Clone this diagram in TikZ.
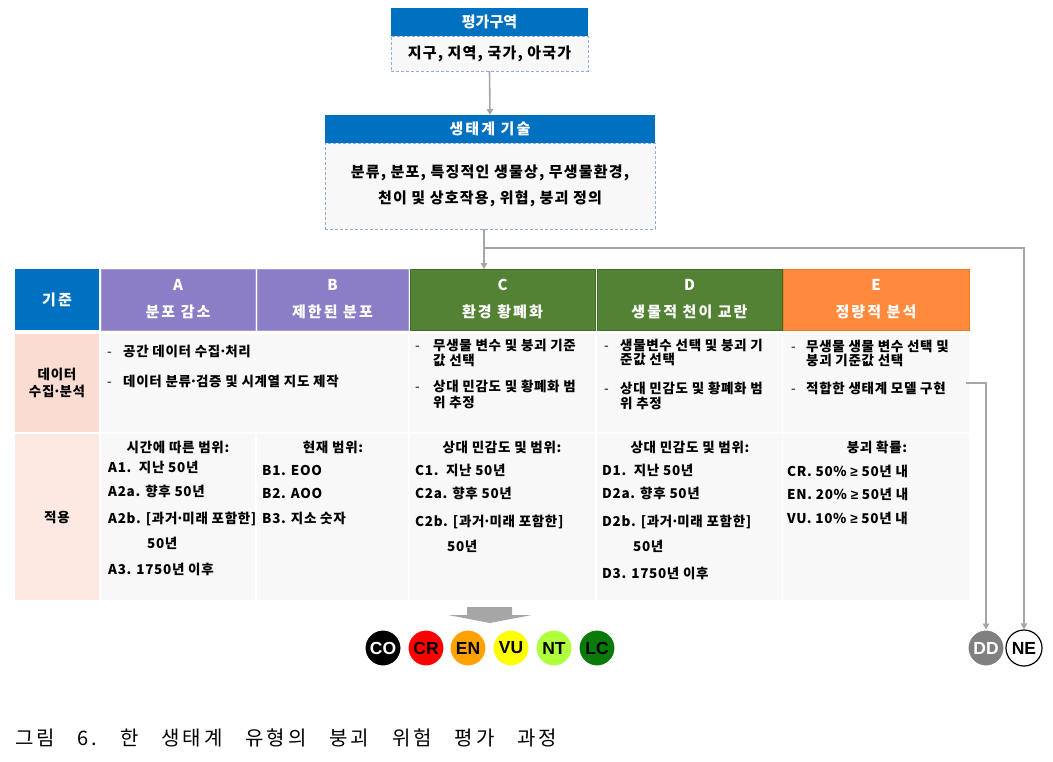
\documentclass[tikz,border=0pt]{standalone}
\usepackage{fontspec}
\setmainfont{Noto Sans CJK KR}[LetterSpace=5]
\newfontfamily\hdrf{Noto Sans CJK KR}[LetterSpace=14]
\newfontfamily\topf{Noto Sans CJK KR}[LetterSpace=8]
\newfontfamily\plainf{Noto Sans CJK KR}
\newfontfamily\capf{Noto Sans CJK KR}[LetterSpace=15]
\newfontfamily\arialf{Liberation Sans}
\newcommand\kdot{\kern-.12em·\kern-.12em}
\newcommand\kge{{\arialf\bfseries ≥}}
\usetikzlibrary{arrows.meta}
\definecolor{hblue}{HTML}{0070C0}
\definecolor{dashblue}{HTML}{8FAADC}
\definecolor{boxgray}{HTML}{F8F8F8}
\definecolor{purp}{HTML}{8B7EC6}
\definecolor{purpline}{HTML}{A59BD6}
\definecolor{grn}{HTML}{548235}
\definecolor{grnline}{HTML}{3E6B25}
\definecolor{orng}{HTML}{FF8A3D}
\definecolor{orngline}{HTML}{F07A22}
\definecolor{pinkA}{HTML}{FBDCD2}
\definecolor{pinkB}{HTML}{FDE9E2}
\definecolor{conngray}{HTML}{A6A6A6}
\definecolor{cored}{HTML}{FF0000}
\definecolor{coorange}{HTML}{FFA200}
\definecolor{coyellow}{HTML}{FFFF00}
\definecolor{colime}{HTML}{B0FF3C}
\definecolor{codgreen}{HTML}{0A7A0A}
\definecolor{ddgray}{HTML}{808080}
\begin{document}
\begin{tikzpicture}[x=1pt,y=-1pt,
  cell/.style={anchor=north west, inner sep=0pt, outer sep=0pt, align=center},
  hdrfont/.style={text=white, font=\hdrf\bfseries\fontsize{15}{27}\selectfont},
  dbox/.style={fill=boxgray, draw=dashblue, dash pattern=on 3pt off 2pt, line width=0.8pt},
  toptext/.style={font=\topf\bfseries\fontsize{15}{26}\selectfont},
  txt/.style={anchor=base west, inner sep=0pt, font=\bfseries\fontsize{13.5}{16}\selectfont},
  ttl/.style={anchor=base, inner sep=0pt, font=\bfseries\fontsize{13.5}{16}\selectfont},
  bul/.style={anchor=base west, inner sep=0pt, font=\fontsize{13.5}{16}\selectfont},
  rl/.style={circle, minimum size=36pt, inner sep=0pt, draw=white, line width=1pt, font=\arialf\bfseries\fontsize{17.5}{17.5}\selectfont},
  conn/.style={draw=conngray, line width=1.6pt, -{Triangle[length=6pt,width=6.5pt]}},
  line/.style={draw=conngray, line width=1.6pt}]
\useasboundingbox (0,0) rectangle (1053,761);

% top boxes
\node[cell, fill=hblue, minimum width=197pt, minimum height=28pt, text=white, font=\plainf\bfseries\fontsize{15}{27}\selectfont] (h1) at (391,8) {평가구역};
\node[cell, dbox, minimum width=197pt, minimum height=35pt, toptext] (b1) at (391,36) {지구, 지역, 국가, 아국가};
\node[cell, fill=hblue, minimum width=330pt, minimum height=28pt, hdrfont] (h2) at (325,115) {생태계 기술};
\node[cell, dbox, minimum width=330pt, minimum height=86pt, toptext] (b2) at (325,143) {분류, 분포, 특징적인 생물상, 무생물환경,\\천이 및 상호작용, 위협, 붕괴 정의};

% table header
\node[cell, fill=hblue, minimum width=84pt, minimum height=61pt, hdrfont] (hK) at (15,269) {기준};
\node[cell, fill=purp, draw=purpline, minimum width=154pt, minimum height=61pt, hdrfont] (hA) at (101,269) {A\\분포 감소};
\node[cell, fill=purp, draw=purpline, minimum width=151pt, minimum height=61pt, hdrfont] (hB) at (257,269) {B\\제한된 분포};
\node[cell, fill=grn, draw=grnline, minimum width=185pt, minimum height=61pt, hdrfont] (hC) at (410,269) {C\\환경 황폐화};
\node[cell, fill=grn, draw=grnline, minimum width=185pt, minimum height=61pt, hdrfont] (hD) at (597,269) {D\\생물적 천이 교란};
\node[cell, fill=orng, draw=orngline, minimum width=186pt, minimum height=61pt, hdrfont] (hE) at (783,269) {E\\정량적 분석};

% row 2
\node[cell, fill=pinkA, minimum width=84pt, minimum height=98pt, font=\bfseries\fontsize{13.5}{17}\selectfont] (rK2) at (15,334) {데이터\\수집\kdot 분석};
\node[cell, fill=boxgray, minimum width=307pt, minimum height=98pt] (rAB2) at (101,334) {};
\node[cell, fill=boxgray, minimum width=185pt, minimum height=98pt] (rC2) at (410,334) {};
\node[cell, fill=boxgray, minimum width=185pt, minimum height=98pt] (rD2) at (597,334) {};
\node[cell, fill=boxgray, minimum width=186pt, minimum height=98pt] (rE2) at (783,334) {};

% row 3
\node[cell, fill=pinkB, minimum width=84pt, minimum height=166pt, font=\bfseries\fontsize{13.5}{17}\selectfont] (rK3) at (15,434) {적용};
\node[cell, fill=boxgray, minimum width=154pt, minimum height=166pt] (rA3) at (101,434) {};
\node[cell, fill=boxgray, minimum width=151pt, minimum height=166pt] (rB3) at (257,434) {};
\node[cell, fill=boxgray, minimum width=185pt, minimum height=166pt] (rC3) at (410,434) {};
\node[cell, fill=boxgray, minimum width=185pt, minimum height=166pt] (rD3) at (597,434) {};
\node[cell, fill=boxgray, minimum width=186pt, minimum height=166pt] (rE3) at (783,434) {};

% row 2 texts
\node[bul] (dAB1) at (107,356) {-};
\node[txt] (tAB1) at (123,356) {공간 데이터 수집\kdot 처리};
\node[bul] (dAB2) at (107,386) {-};
\node[txt] (tAB2) at (123,386) {데이터 분류\kdot 검증 및 시계열 지도 제작};

\node[bul] (dC1) at (415,350) {-};
\node[txt] (tC1) at (433,350) {무생물 변수 및 붕괴 기준};
\node[txt] (tC1b) at (433,365) {값 선택};
\node[bul] (dC2) at (415,391) {-};
\node[txt] (tC2) at (433,391) {상대 민감도 및 황폐화 범};
\node[txt] (tC2b) at (433,407) {위 추정};

\node[bul] (dD1) at (604,350) {-};
\node[txt] (tD1) at (620,350) {생물변수 선택 및 붕괴 기};
\node[txt] (tD1b) at (620,364) {준값 선택};
\node[bul] (dD2) at (604,393) {-};
\node[txt] (tD2) at (620,393) {상대 민감도 및 황폐화 범};
\node[txt] (tD2b) at (620,408) {위 추정};

\node[bul] (dE1) at (791,351) {-};
\node[txt] (tE1) at (806,351) {무생물 생물 변수 선택 및};
\node[txt] (tE1b) at (806,365) {붕괴 기준값 선택};
\node[bul] (dE2) at (791,393) {-};
\node[txt] (tE2) at (806,393) {적합한 생태계 모델 구현};

% row 3 texts
\node[ttl] (tA0) at (178,452) {시간에 따른 범위:};
\node[txt] (tA1) at (108,472) {A1.\ \ 지난 50년};
\node[txt] (tA2) at (108,496) {A2a. 향후 50년};
\node[txt] (tA3) at (108,523) {A2b. [과거\kdot 미래 포함한]};
\node[txt] (tA3b) at (147,548) {50년};
\node[txt] (tA4) at (108,574) {A3. 1750년 이후};

\node[ttl] (tB0) at (333,452) {현재 범위:};
\node[txt] (tB1) at (262,475) {B1. EOO};
\node[txt] (tB2) at (262,498) {B2. AOO};
\node[txt] (tB3) at (262,523) {B3. 지소 숫자};

\node[ttl] (tCC0) at (502,452) {상대 민감도 및 범위:};
\node[txt] (tCC1) at (415,475) {C1.\ \ 지난 50년};
\node[txt] (tCC2) at (415,498) {C2a. 향후 50년};
\node[txt] (tCC3) at (415,526) {C2b. [과거\kdot 미래 포함한]};
\node[txt] (tCC3b) at (447,551) {50년};

\node[ttl] (tDD0) at (690,452) {상대 민감도 및 범위:};
\node[txt] (tDD1) at (602,475) {D1.\ \ 지난 50년};
\node[txt] (tDD2) at (602,498) {D2a. 향후 50년};
\node[txt] (tDD3) at (602,526) {D2b. [과거\kdot 미래 포함한]};
\node[txt] (tDD3b) at (633,551) {50년};
\node[txt] (tDD4) at (602,578) {D3. 1750년 이후};

\node[ttl] (tEE0) at (877,452) {붕괴 확률:};
\node[txt] (tEE1) at (787,476) {CR. 50\% \kge{} 50년 내};
\node[txt] (tEE2) at (787,499) {EN. 20\% \kge{} 50년 내};
\node[txt] (tEE3) at (787,523) {VU. 10\% \kge{} 50년 내};

% block arrow
\fill[conngray] (467,607) -- (512,607) -- (512,615) -- (532,615) -- (490,623) -- (448,615) -- (467,615) -- cycle;

% category circles
\node[rl, fill=black, text=white] (co) at (383,648) {CO};
\node[rl, fill=cored] (cr) at (426,648) {CR};
\node[rl, fill=coorange] (en) at (468,648) {EN};
\node[rl, fill=coyellow] (vu) at (511,648) {VU};
\node[rl, fill=colime] (nt) at (554,648) {NT};
\node[rl, fill=codgreen] (lc) at (597,648) {LC};
\node[rl, fill=ddgray, text=white] (dd) at (986,648) {DD};
\node[rl, fill=white, draw=black, line width=1.2pt] (ne) at (1024,648) {NE};

% connectors
\coordinate (split) at (484,248);
\coordinate (ddstart) at (966,383);
\draw[conn] (b1.south -| h1.north) -- (h2.north);
\draw[line] (b2.south -| split) -- (split);
\draw[conn] (split) -- (hC.north -| split);
\draw[conn] (split) -| (ne.north);
\draw[conn] (ddstart) -| (dd.north);

% caption
\node[anchor=base west, inner sep=0pt, font=\capf\fontsize{20}{24}\selectfont] (cap) at (15,745) {\frenchspacing\makebox[542pt][s]{그림 6. 한 생태계 유형의 붕괴 위험 평가 과정}};
\end{tikzpicture}
\end{document}
